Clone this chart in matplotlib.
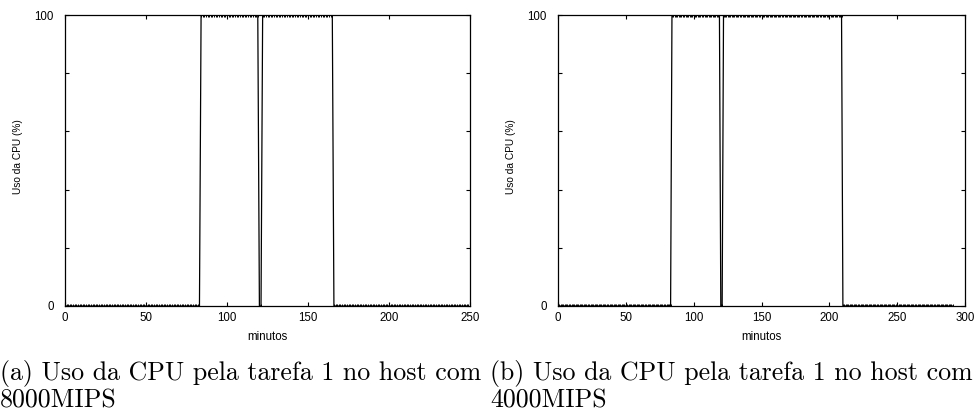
import numpy as np
import matplotlib
matplotlib.use("Agg")
from matplotlib import pyplot as plt

# CPU usage of task 1, one sample per minute, stored as (value, run length)
runs_8000 = [(0, 84), (100, 36), (0, 2), (100, 44), (0, 84)]
runs_4000 = [(0, 84), (100, 36), (0, 2), (100, 88), (0, 82)]

xticks_8000 = [0, 50, 100, 150, 200, 250]
xticks_4000 = [0, 50, 100, 150, 200, 250, 300]
yticks = [0, 20, 40, 60, 80, 100]
ylabels = ["0", "", "", "", "", "100"]

captions = ["(a) Uso da CPU pela tarefa 1 no host com\n8000MIPS",
            "(b) Uso da CPU pela tarefa 1 no host com\n4000MIPS"]

plt.rcParams['font.family'] = ['Liberation Sans', 'DejaVu Sans']


def expand(runs):
    vals = np.concatenate([np.full(n, v, dtype=float) for v, n in runs])
    return np.arange(len(vals)), vals


W, H = 977, 413
fig = plt.figure(figsize=(W / 100, H / 100), dpi=100)


def panel(left, right, runs, xticks, caption, cap_x):
    top, bottom = 15, 306
    ax = fig.add_axes([left / W, 1 - bottom / H, (right - left) / W, (bottom - top) / H])
    t, u = expand(runs)
    ax.plot(t, u, color='black', lw=0.9, marker='|', ms=2.8, mew=0.7)
    ax.set_xlim(xticks[0], xticks[-1])
    ax.set_ylim(0, 100)
    ax.set_xticks(xticks)
    ax.set_yticks(yticks)
    ax.set_yticklabels(ylabels)
    ax.tick_params(direction='in', length=3, width=0.8, labelsize=8.3,
                   top=True, right=True, pad=4)
    ax.tick_params(axis='y', pad=8)
    for s in ax.spines.values():
        s.set_linewidth(0.9)
    ax.set_xlabel("minutos", fontsize=8.3, labelpad=5)
    ax.set_ylabel("Uso da CPU (%)", fontsize=7.3, va='center')
    # y label sits about 47 px left of the frame, a little above centre
    ax.yaxis.set_label_coords(-47 / (right - left), (bottom - 157) / (bottom - top))
    fig.text(cap_x / W, 1 - 360 / H, caption, family='cmr10', fontsize=18.6,
             va='top', ha='left', linespacing=1.12)
    return ax


panel(65, 470, runs_8000, xticks_8000, captions[0], 0)
panel(558, 965, runs_4000, xticks_4000, captions[1], 490)

fig.savefig("out.png", dpi=100)
